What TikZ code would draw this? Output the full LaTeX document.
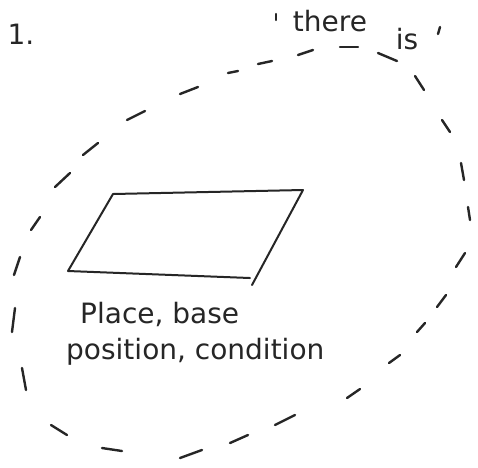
\documentclass[tikz,border=0pt]{standalone}
\usepackage{fontspec}
\setmainfont{DejaVu Sans}
\begin{document}
\begin{tikzpicture}[x=1pt,y=-1pt,
  dashmark/.style={line width=2.4pt,line cap=round,black!85},
  edge/.style={line width=2pt,line cap=round,line join=round,black!85},
  hand/.style={inner sep=0pt,font=\fontsize{28}{32}\selectfont,text=black!85}]
\useasboundingbox (0,0) rectangle (478,467);
\fill[white] (0,0) rectangle (478,467);
% dashed loop, drawn as individual strokes
\foreach \a/\b/\c/\d in {
 83/155/98/143, 127/120/145/111, 180/94/198/87, 228/73/238/71,
 258/64/272/61, 298/55/313/50, 340/47/358/47, 378/53/397/61,
 415/76/424/90, 442/120/450/132, 461/163/464/180, 468/207/470/220,
 465/253/456/267, 446/295/437/307, 425/323/417/332, 400/355/389/363,
 360/389/347/398, 295/415/275/425, 248/435/230/443, 202/450/180/458,
 122/451/102/448, 67/435/51/425, 26/390/22/368, 12/332/15/308,
 14/275/20/257, 31/230/40/217, 55/187/70/173}
 \draw[dashmark] (\a,\b) -- (\c,\d);
% quote marks
\draw[dashmark] (276,14) -- (276,20);
\draw[dashmark] (440,27) -- (438,34);
% parallelogram
\coordinate (tl) at (113,194);
\coordinate (tr) at (303,190);
\coordinate (br) at (250,278);
\coordinate (brx) at (252,285);
\coordinate (bl) at (68,271);
\draw[edge] (brx) -- (tr) -- (tl) -- (bl) -- (br);
% texts
\node[hand,anchor=base] (one) at (21,44) {1.};
\node[hand,anchor=base] (there) at (330,31) {there};
\node[hand,anchor=base] (is) at (407,49) {is};
\node[hand,anchor=base west] (place) at (80,323) {Place, base};
\node[hand,anchor=base west] (pos) at (66,359) {position, condition};
\end{tikzpicture}
\end{document}
